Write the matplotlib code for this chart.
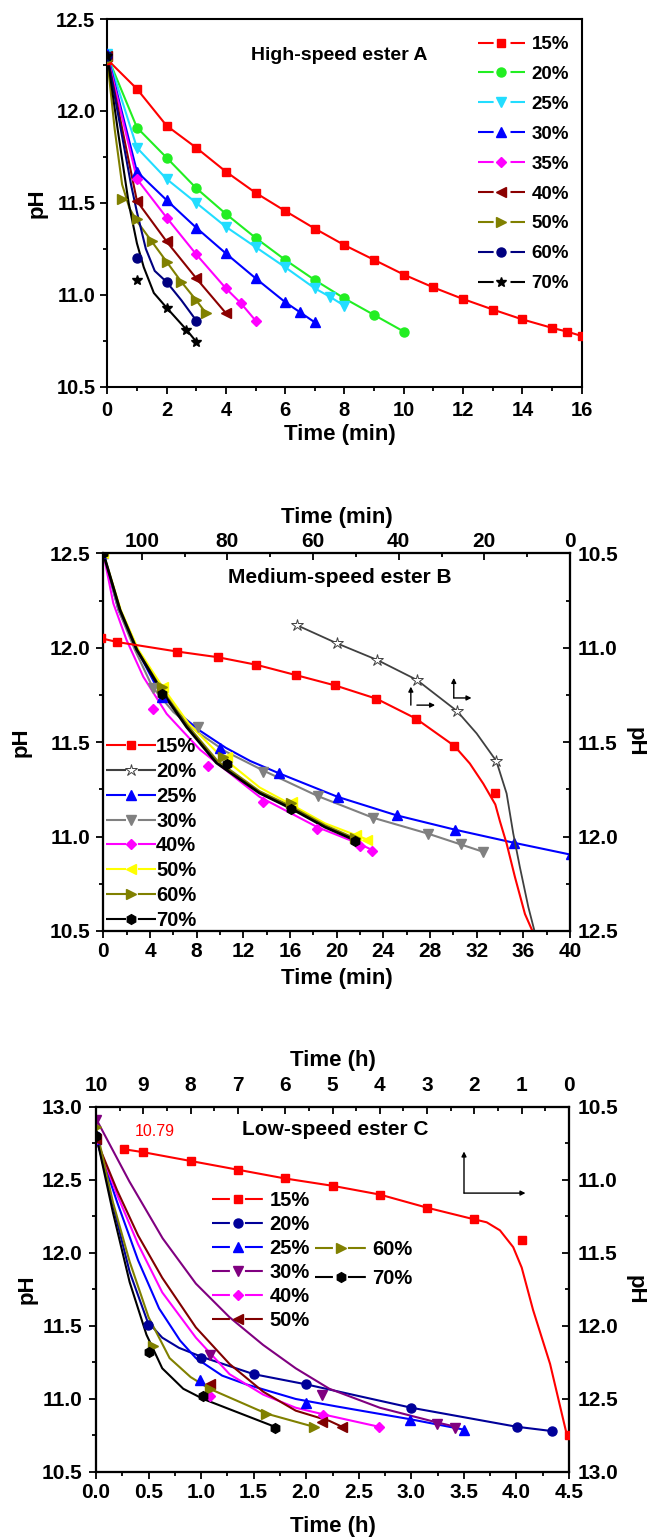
import matplotlib
matplotlib.use('Agg')
import matplotlib.pyplot as plt
from matplotlib.ticker import MultipleLocator, FormatStrFormatter
from matplotlib.lines import Line2D

plt.rcParams['font.family'] = ['Liberation Sans', 'DejaVu Sans']
plt.rcParams['font.weight'] = 'bold'
plt.rcParams['axes.labelweight'] = 'bold'
plt.rcParams['axes.linewidth'] = 1.5

# ---------------- Panel A : High-speed ester A (min) ----------------
A15_t = [0, 1, 2, 3, 4, 5, 6, 7, 8, 9, 10, 11, 12, 13, 14, 15, 15.5, 16]
A15_ph = [12.28, 12.12, 11.92, 11.80, 11.67, 11.555, 11.456, 11.36, 11.27, 11.19,
          11.11, 11.04, 10.977, 10.92, 10.866, 10.82, 10.80, 10.776]
A20_t = [0, 1, 2, 3, 4, 5, 6, 7, 8, 9, 10]
A20_ph = [12.30, 11.91, 11.746, 11.58, 11.44, 11.31, 11.19, 11.08, 10.98, 10.89, 10.80]
A25_t = [0, 1, 2, 3, 4, 5, 6, 7, 7.5, 8]
A25_ph = [12.31, 11.80, 11.63, 11.50, 11.37, 11.26, 11.15, 11.035, 10.99, 10.94]
A30_t = [0, 1, 2, 3, 4, 5, 6, 6.5, 7]
A30_ph = [12.31, 11.67, 11.515, 11.365, 11.225, 11.09, 10.96, 10.905, 10.85]
A35_t = [0, 1, 2, 3, 4, 4.5, 5]
A35_ph = [12.30, 11.63, 11.42, 11.22, 11.035, 10.955, 10.86]
A40_t = [0, 1, 2, 3, 4]
A40_ph = [12.30, 11.51, 11.29, 11.09, 10.90]
A50_t = [0, 0.5, 1, 1.5, 2, 2.5, 3, 3.33]
A50_ph = [12.28, 11.52, 11.41, 11.29, 11.18, 11.07, 10.97, 10.90]
A50_fit_t = [0, 0.25, 0.5, 0.75, 1, 1.5, 2, 2.5, 3, 3.33]
A50_fit_ph = [12.28, 11.90, 11.60, 11.47, 11.40, 11.29, 11.18, 11.07, 10.97, 10.90]
A60_t = [0, 1, 2, 3]
A60_ph = [12.30, 11.20, 11.07, 10.86]
A60_fit_t = [0, 0.4, 0.8, 1.0, 1.3, 1.6, 2.0, 2.5, 3.0]
A60_fit_ph = [12.30, 11.95, 11.60, 11.45, 11.25, 11.13, 11.07, 10.97, 10.86]
A70_t = [0, 1, 2, 2.67, 3]
A70_ph = [12.30, 11.08, 10.93, 10.81, 10.745]
A70_fit_t = [0, 0.35, 0.72, 1.0, 1.23, 1.57, 2.0, 2.67, 3.0]
A70_fit_ph = [12.30, 11.90, 11.50, 11.28, 11.15, 11.01, 10.93, 10.81, 10.745]

# ---------------- Panel B : Medium-speed ester B (min) ----------------
# 15 % and 20 % use the top (reversed) time axis and right (inverted) pH axis
B15_t = [109.5, 105.7, 91.8, 82.3, 73.3, 64.0, 54.8, 45.2, 36.0, 27.0, 17.4]
B15_ph = [10.95, 10.97, 11.02, 11.05, 11.09, 11.145, 11.20, 11.27, 11.375, 11.52, 11.77]
B15_fit_t = [109.5, 105.7, 91.8, 82.3, 73.3, 64.0, 54.8, 45.2, 36.0, 27.0, 23.4, 20.25,
             17.44, 16.35, 14.8, 12.86, 10.52, 8.58]
B15_fit_ph = [10.95, 10.97, 11.02, 11.05, 11.09, 11.145, 11.20, 11.27, 11.375, 11.52, 11.613,
              11.72, 11.83, 11.92, 12.037, 12.214, 12.41, 12.51]
B20_t = [63.85, 54.4, 45.0, 35.8, 26.4, 17.2]
B20_ph = [10.88, 10.977, 11.065, 11.17, 11.335, 11.60]
B20_fit_t = [63.85, 54.4, 45.0, 35.8, 26.4, 21.8, 17.2, 14.8, 13.25, 11.72, 9.73, 8.18]
B20_fit_ph = [10.88, 10.977, 11.065, 11.17, 11.335, 11.454, 11.60, 11.772, 11.984, 12.16,
              12.373, 12.51]
# the rest use the bottom time axis and left pH axis
B25_t = [0, 5, 10, 15.09, 20.14, 25.14, 30.14, 35.2, 40.05]
B25_ph = [12.5, 11.74, 11.47, 11.334, 11.21, 11.113, 11.037, 10.967, 10.905]
B25_fit_t = [0, 1.3, 2.8, 4.5, 6.3, 8.3, 10.5, 12.6, 15.1, 20.1, 25.1, 30.1, 35.2, 40]
B25_fit_ph = [12.5, 12.2, 12.0, 11.8, 11.66, 11.56, 11.47, 11.40, 11.334, 11.21, 11.113,
              11.037, 10.967, 10.905]
B30_t = [0, 4.23, 8.14, 13.7, 18.4, 23.1, 27.8, 30.65, 32.57]
B30_ph = [12.5, 11.785, 11.58, 11.343, 11.214, 11.10, 11.016, 10.958, 10.919]
B30_fit_t = [0, 1.3, 2.7, 4.23, 6.0, 8.14, 10.5, 13.7, 18.4, 23.1, 27.8, 30.65, 32.57]
B30_fit_ph = [12.5, 12.2, 11.99, 11.79, 11.66, 11.55, 11.45, 11.35, 11.214, 11.10, 11.016,
              10.958, 10.919]
B40_t = [0, 4.29, 9.0, 13.66, 18.34, 22.0, 23.0]
B40_ph = [12.5, 11.673, 11.375, 11.184, 11.042, 10.949, 10.924]
B40_fit_t = [0, 0.86, 2.0, 3.43, 5.43, 8.29, 13.4, 18.34, 22.0, 23.0]
B40_fit_ph = [12.5, 12.235, 12.04, 11.846, 11.65, 11.46, 11.21, 11.05, 10.96, 10.93]
B50_t = [0, 5.09, 10.57, 16.14, 21.65, 22.6]
B50_ph = [12.5, 11.793, 11.42, 11.184, 11.01, 10.984]
B50_fit_t = [0, 1.5, 3.0, 5.1, 7.3, 10.0, 13.4, 16.1, 19.0, 22.6]
B50_fit_ph = [12.5, 12.2, 11.99, 11.79, 11.6, 11.43, 11.26, 11.17, 11.07, 10.985]
B60_t = [0, 5.0, 10.3, 16.1, 21.6]
B60_ph = [12.5, 11.79, 11.42, 11.18, 10.99]
B60_fit_t = [0, 1.45, 2.9, 5.0, 7.2, 9.8, 13.4, 16.1, 19.0, 21.6]
B60_fit_ph = [12.5, 12.2, 11.99, 11.78, 11.59, 11.40, 11.24, 11.16, 11.06, 10.99]
B70_t = [0, 5.06, 10.57, 16.06, 21.57]
B70_ph = [12.5, 11.754, 11.382, 11.148, 10.977]
B70_fit_t = [0, 1.43, 2.86, 5.0, 7.14, 9.7, 13.4, 16.06, 19.0, 21.6]
B70_fit_ph = [12.5, 12.2, 11.99, 11.77, 11.58, 11.39, 11.23, 11.15, 11.05, 10.98]

# ---------------- Panel C : Low-speed ester C (h) ----------------
# 15 % uses the top (reversed) time axis and right (inverted) pH axis
C15_t = [9.4, 9, 8, 7, 6, 5, 4, 3, 2, 1, 0]
C15_ph = [10.79, 10.81, 10.87, 10.93, 10.99, 11.04, 11.10, 11.19, 11.27, 11.41, 12.75]
C15_fit_t = [9.4, 9, 8, 7, 6, 5, 4, 3, 2, 1.74, 1.46, 1.18, 1.0, 0.76, 0.40, 0.05]
C15_fit_ph = [10.79, 10.81, 10.87, 10.93, 10.99, 11.04, 11.10, 11.19, 11.27, 11.29, 11.345,
              11.46, 11.60, 11.89, 12.26, 12.74]
C20_t = [0, 0.49, 1.0, 1.5, 2.0, 3.0, 4.01, 4.34]
C20_ph = [12.8, 11.51, 11.28, 11.17, 11.10, 10.94, 10.81, 10.78]
C20_fit_t = [0, 0.16, 0.32, 0.49, 0.63, 0.79, 1.0, 1.5, 2.0, 3.0, 4.0, 4.34]
C20_fit_ph = [12.81, 12.33, 11.87, 11.53, 11.42, 11.35, 11.29, 11.17, 11.10, 10.94, 10.81, 10.78]
C25_t = [0, 0.99, 2.0, 2.99, 3.5]
C25_ph = [12.78, 11.13, 10.975, 10.855, 10.79]
C25_fit_t = [0, 0.2, 0.4, 0.6, 0.8, 0.95, 1.2, 1.43, 1.9, 2.28, 3.0, 3.5]
C25_fit_ph = [12.78, 12.35, 11.95, 11.62, 11.40, 11.28, 11.16, 11.10, 11.0, 10.95, 10.86, 10.79]
C30_t = [0, 1.08, 2.15, 3.24, 3.42]
C30_ph = [12.91, 11.30, 11.03, 10.83, 10.80]
C30_fit_t = [0, 0.317, 0.634, 0.95, 1.27, 1.59, 1.9, 2.22, 2.7, 3.24, 3.42]
C30_fit_ph = [12.92, 12.49, 12.10, 11.79, 11.56, 11.37, 11.21, 11.07, 10.94, 10.84, 10.81]
C40_t = [0, 1.08, 2.16, 2.69]
C40_ph = [12.78, 11.02, 10.89, 10.81]
C40_fit_t = [0, 0.2, 0.4, 0.63, 0.95, 1.27, 1.59, 1.9, 2.22, 2.69]
C40_fit_ph = [12.78, 12.40, 12.06, 11.73, 11.42, 11.17, 11.03, 10.94, 10.885, 10.81]
C50_t = [0, 1.08, 2.15, 2.34]
C50_ph = [12.78, 11.10, 10.84, 10.81]
C50_fit_t = [0, 0.2, 0.4, 0.63, 0.95, 1.27, 1.59, 1.9, 2.22, 2.34]
C50_fit_ph = [12.78, 12.43, 12.12, 11.83, 11.49, 11.24, 11.05, 10.92, 10.85, 10.81]
C60_t = [0, 0.54, 1.08, 1.62, 2.07]
C60_ph = [12.86, 11.365, 11.07, 10.896, 10.81]
C60_fit_t = [0, 0.16, 0.32, 0.5, 0.7, 0.9, 1.08, 1.62, 2.07]
C60_fit_ph = [12.86, 12.35, 11.94, 11.56, 11.28, 11.15, 11.07, 10.90, 10.81]
C70_t = [0, 0.5, 1.015, 1.70]
C70_ph = [12.8, 11.32, 11.02, 10.80]
C70_fit_t = [0, 0.16, 0.32, 0.48, 0.63, 0.83, 1.02, 1.27, 1.70]
C70_fit_ph = [12.81, 12.28, 11.80, 11.44, 11.21, 11.07, 11.0, 10.93, 10.81]

LAB_FS = 16

fig = plt.figure(figsize=(6.55, 15.37), dpi=100)


def series(ax, t, ph, color, marker, label, dash, fit_t=None, fit_ph=None, ms=6.5,
           mfc=None, lw=1.5, mew=1.0):
    lt = fit_t if fit_t is not None else t
    lp = fit_ph if fit_ph is not None else ph
    ax.plot(lt, lp, color=color, lw=lw, zorder=2)
    ax.plot(t, ph, ls='none', marker=marker, color=color, ms=ms,
            mfc=mfc if mfc else color, mec=color, mew=mew, zorder=3)
    # legend handle drawn Origin-style: line broken around the symbol
    return Line2D([], [], color=color, lw=1.5, ls=dash, marker=marker, ms=ms,
                  mfc=mfc if mfc else color, mec=color, mew=mew, label=label)


def style_main(ax, fs, xpad=3.5, ypad=3.5):
    ax.tick_params(which='both', direction='out', labelsize=fs, width=1.3,
                   top=False, right=False)
    ax.tick_params(axis='x', pad=xpad)
    ax.tick_params(axis='y', pad=ypad)
    ax.tick_params(which='major', length=5)
    ax.tick_params(which='minor', length=3)


def left_label(ax, x):
    ax.set_ylabel('pH', fontsize=LAB_FS, rotation=90, va='bottom', ha='center',
                  rotation_mode='anchor')
    ax.yaxis.set_label_coords(x, 0.5)


def right_label(ax, x):
    ax.set_ylabel('pH', fontsize=LAB_FS)
    ax.yaxis.label.set_rotation(270)
    ax.yaxis.label.set_rotation_mode('anchor')
    ax.yaxis.label.set_va('bottom')
    ax.yaxis.label.set_ha('center')
    ax.yaxis.set_label_coords(x, 0.5)


def arrow(ax, x0, y0, x1, y1):
    ax.annotate('', xy=(x1, y1), xytext=(x0, y0), xycoords='axes fraction',
                arrowprops=dict(arrowstyle='-|>', color='black', lw=1,
                                mutation_scale=7, shrinkA=0, shrinkB=0))


DASH_A = (0, (7.5, 8.1, 7.5, 30))
DASH_B = (0, (9.6, 5.7, 9.6, 30))
DASH_C = (0, (8.6, 7.2, 8.6, 30))

# ======================= Panel A =======================
axA = fig.add_axes([0.1638, 0.7484, 0.7243, 0.2392])
hA = []
hA.append(series(axA, A15_t, A15_ph, '#ff0000', 's', '15%', DASH_A, ms=6))
hA.append(series(axA, A20_t, A20_ph, '#22ee22', 'o', '20%', DASH_A))
hA.append(series(axA, A25_t, A25_ph, '#22ddff', 'v', '25%', DASH_A, ms=7))
hA.append(series(axA, A30_t, A30_ph, '#0000ff', '^', '30%', DASH_A, ms=7))
hA.append(series(axA, A35_t, A35_ph, '#ff00ff', 'D', '35%', DASH_A, ms=5.5))
hA.append(series(axA, A40_t, A40_ph, '#8b0000', '<', '40%', DASH_A, ms=7))
hA.append(series(axA, A50_t, A50_ph, '#808000', '>', '50%', DASH_A, A50_fit_t, A50_fit_ph, ms=7))
hA.append(series(axA, A60_t, A60_ph, '#000080', 'o', '60%', DASH_A, A60_fit_t, A60_fit_ph))
hA.append(series(axA, A70_t, A70_ph, '#000000', '*', '70%', DASH_A, A70_fit_t, A70_fit_ph, ms=7.5))
axA.set_xlim(0, 16)
axA.set_ylim(10.5, 12.5)
axA.xaxis.set_major_locator(MultipleLocator(2))
axA.xaxis.set_minor_locator(MultipleLocator(1))
axA.yaxis.set_major_locator(MultipleLocator(0.5))
axA.yaxis.set_minor_locator(MultipleLocator(0.25))
style_main(axA, 14.5, xpad=5, ypad=3.5)
axA.set_xlabel('Time (min)', fontsize=LAB_FS, va='top')
axA.xaxis.set_label_coords(0.49, -0.101)
left_label(axA, -0.125)
axA.text(0.488, 0.902, 'High-speed ester A', transform=axA.transAxes, ha='center',
         va='center', fontsize=14, fontweight='bold')
axA.legend(handles=hA, loc='upper left', bbox_to_anchor=(0.777, 0.959), frameon=False,
           handlelength=2.5, handletextpad=0.37, labelspacing=0.68,
           borderaxespad=0, borderpad=0.1, prop={'weight': 'bold', 'size': 13.5})

# ======================= Panel B =======================
axB = fig.add_axes([0.1577, 0.3943, 0.7125, 0.2457])
axBr = axB.twinx()
axBt = axBr.twiny()
hB = []
hB.append(series(axBt, B15_t, B15_ph, '#ff0000', 's', '15%', DASH_B, B15_fit_t, B15_fit_ph, ms=6))
hB.append(series(axBt, B20_t, B20_ph, '#404040', '*', '20%', DASH_B, B20_fit_t, B20_fit_ph,
                 ms=9, mfc='white', lw=1.3, mew=0.7))
hB.append(series(axB, B25_t, B25_ph, '#0000ff', '^', '25%', DASH_B, B25_fit_t, B25_fit_ph, ms=7))
hB.append(series(axB, B30_t, B30_ph, '#808080', 'v', '30%', DASH_B, B30_fit_t, B30_fit_ph, ms=7))
hB.append(series(axB, B40_t, B40_ph, '#ff00ff', 'D', '40%', DASH_B, B40_fit_t, B40_fit_ph, ms=5.5))
hB.append(series(axB, B50_t, B50_ph, '#ffff00', '<', '50%', DASH_B, B50_fit_t, B50_fit_ph, ms=7))
hB.append(series(axB, B60_t, B60_ph, '#808000', '>', '60%', DASH_B, B60_fit_t, B60_fit_ph, ms=7))
hB.append(series(axB, B70_t, B70_ph, '#000000', 'h', '70%', DASH_B, B70_fit_t, B70_fit_ph, ms=7, lw=2))
axB.set_xlim(0, 40)
axB.set_ylim(10.5, 12.5)
axB.xaxis.set_major_locator(MultipleLocator(4))
axB.xaxis.set_minor_locator(MultipleLocator(2))
axB.yaxis.set_major_locator(MultipleLocator(0.5))
axB.yaxis.set_minor_locator(MultipleLocator(0.25))
style_main(axB, 15, xpad=3.0, ypad=4.3)
axB.set_xlabel('Time (min)', fontsize=LAB_FS, va='top')
axB.xaxis.set_label_coords(0.5, -0.098)
left_label(axB, -0.153)
axBt.set_xlim(109, 0)
axBr.set_ylim(12.5, 10.5)
axBt.xaxis.set_major_locator(MultipleLocator(20))
axBt.xaxis.set_minor_locator(MultipleLocator(10))
axBr.yaxis.set_major_locator(MultipleLocator(0.5))
axBr.yaxis.set_minor_locator(MultipleLocator(0.25))
axBt.tick_params(axis='x', which='both', direction='in', labelsize=15, width=1.3, pad=1.5)
axBt.tick_params(axis='x', which='major', length=5)
axBt.tick_params(axis='x', which='minor', length=3)
axBr.tick_params(axis='y', which='both', direction='in', labelsize=15, width=1.3, pad=5.5)
axBr.tick_params(axis='y', which='major', length=5)
axBr.tick_params(axis='y', which='minor', length=3)
axBt.set_xlabel('Time (min)', fontsize=LAB_FS, va='bottom')
axBt.xaxis.set_label_coords(0.5, 1.067)
right_label(axBr, 1.118)
axB.text(0.506, 0.935, 'Medium-speed ester B', transform=axB.transAxes, ha='center',
         va='center', fontsize=15, fontweight='bold')
arrow(axB, 0.659, 0.598, 0.659, 0.647)
arrow(axB, 0.672, 0.598, 0.711, 0.598)
arrow(axB, 0.751, 0.617, 0.751, 0.670)
arrow(axB, 0.751, 0.617, 0.789, 0.617)
axBt.legend(handles=hB, loc='lower left', bbox_to_anchor=(0.003, 0.0), frameon=False,
            handlelength=2.5, handletextpad=0.0, labelspacing=0.29,
            borderaxespad=0.0, borderpad=0.05, prop={'weight': 'bold', 'size': 14.5})

# ======================= Panel C =======================
axC = fig.add_axes([0.1466, 0.0423, 0.7221, 0.2375])
axCr = axC.twinx()
axCt = axCr.twiny()
hC = []
hC.append(series(axCt, C15_t, C15_ph, '#ff0000', 's', '15%', DASH_C, C15_fit_t, C15_fit_ph, ms=6))
hC.append(series(axC, C20_t, C20_ph, '#000099', 'o', '20%', DASH_C, C20_fit_t, C20_fit_ph))
hC.append(series(axC, C25_t, C25_ph, '#0000ff', '^', '25%', DASH_C, C25_fit_t, C25_fit_ph, ms=7))
hC.append(series(axC, C30_t, C30_ph, '#800080', 'v', '30%', DASH_C, C30_fit_t, C30_fit_ph, ms=7))
hC.append(series(axC, C40_t, C40_ph, '#ff00ff', 'D', '40%', DASH_C, C40_fit_t, C40_fit_ph, ms=5.5))
hC.append(series(axC, C50_t, C50_ph, '#800000', '<', '50%', DASH_C, C50_fit_t, C50_fit_ph, ms=7))
hC.append(series(axC, C60_t, C60_ph, '#808000', '>', '60%', DASH_C, C60_fit_t, C60_fit_ph, ms=7))
hC.append(series(axC, C70_t, C70_ph, '#000000', 'h', '70%', DASH_C, C70_fit_t, C70_fit_ph, ms=7))
axC.set_xlim(0, 4.5)
axC.set_ylim(10.5, 13.0)
axC.xaxis.set_major_locator(MultipleLocator(0.5))
axC.xaxis.set_minor_locator(MultipleLocator(0.25))
axC.yaxis.set_major_locator(MultipleLocator(0.5))
axC.yaxis.set_minor_locator(MultipleLocator(0.25))
axC.xaxis.set_major_formatter(FormatStrFormatter('%.1f'))
style_main(axC, 15, xpad=3.0, ypad=5.0)
axC.set_xlabel('Time (h)', fontsize=LAB_FS, va='top')
axC.xaxis.set_label_coords(0.5, -0.12)
left_label(axC, -0.123)
axCt.set_xlim(10, 0)
axCr.set_ylim(13.0, 10.5)
axCt.xaxis.set_major_locator(MultipleLocator(1))
axCt.xaxis.set_minor_locator(MultipleLocator(0.5))
axCr.yaxis.set_major_locator(MultipleLocator(0.5))
axCr.yaxis.set_minor_locator(MultipleLocator(0.25))
axCt.tick_params(axis='x', which='both', direction='in', labelsize=15, width=1.3, pad=8.5)
axCt.tick_params(axis='x', which='major', length=5)
axCt.tick_params(axis='x', which='minor', length=3)
axCr.tick_params(axis='y', which='both', direction='in', labelsize=15, width=1.3, pad=6.5)
axCr.tick_params(axis='y', which='major', length=5)
axCr.tick_params(axis='y', which='minor', length=3)
axCt.set_xlabel('Time (h)', fontsize=LAB_FS, va='bottom')
axCt.xaxis.set_label_coords(0.5, 1.099)
right_label(axCr, 1.118)
axC.text(0.506, 0.937, 'Low-speed ester C', transform=axC.transAxes, ha='center',
         va='center', fontsize=15, fontweight='bold')
axC.text(0.125, 0.932, '10.79', transform=axC.transAxes, ha='center', va='center',
         fontsize=11.5, fontweight='normal', color='#ff0000')
arrow(axC, 0.778, 0.764, 0.778, 0.878)
arrow(axC, 0.778, 0.764, 0.908, 0.764)
legC1 = axCt.legend(handles=hC[:6], loc='upper left', bbox_to_anchor=(0.241, 0.776),
                    frameon=False, handlelength=2.55, handletextpad=0.3, labelspacing=0.25,
                    borderaxespad=0, borderpad=0.1, prop={'weight': 'bold', 'size': 14.5})
axCt.add_artist(legC1)
axCt.legend(handles=hC[6:], loc='upper left', bbox_to_anchor=(0.459, 0.642),
            frameon=False, handlelength=2.55, handletextpad=0.3, labelspacing=0.52,
            borderaxespad=0, borderpad=0.1, prop={'weight': 'bold', 'size': 14.5})

fig.savefig('out.png', dpi=100)
